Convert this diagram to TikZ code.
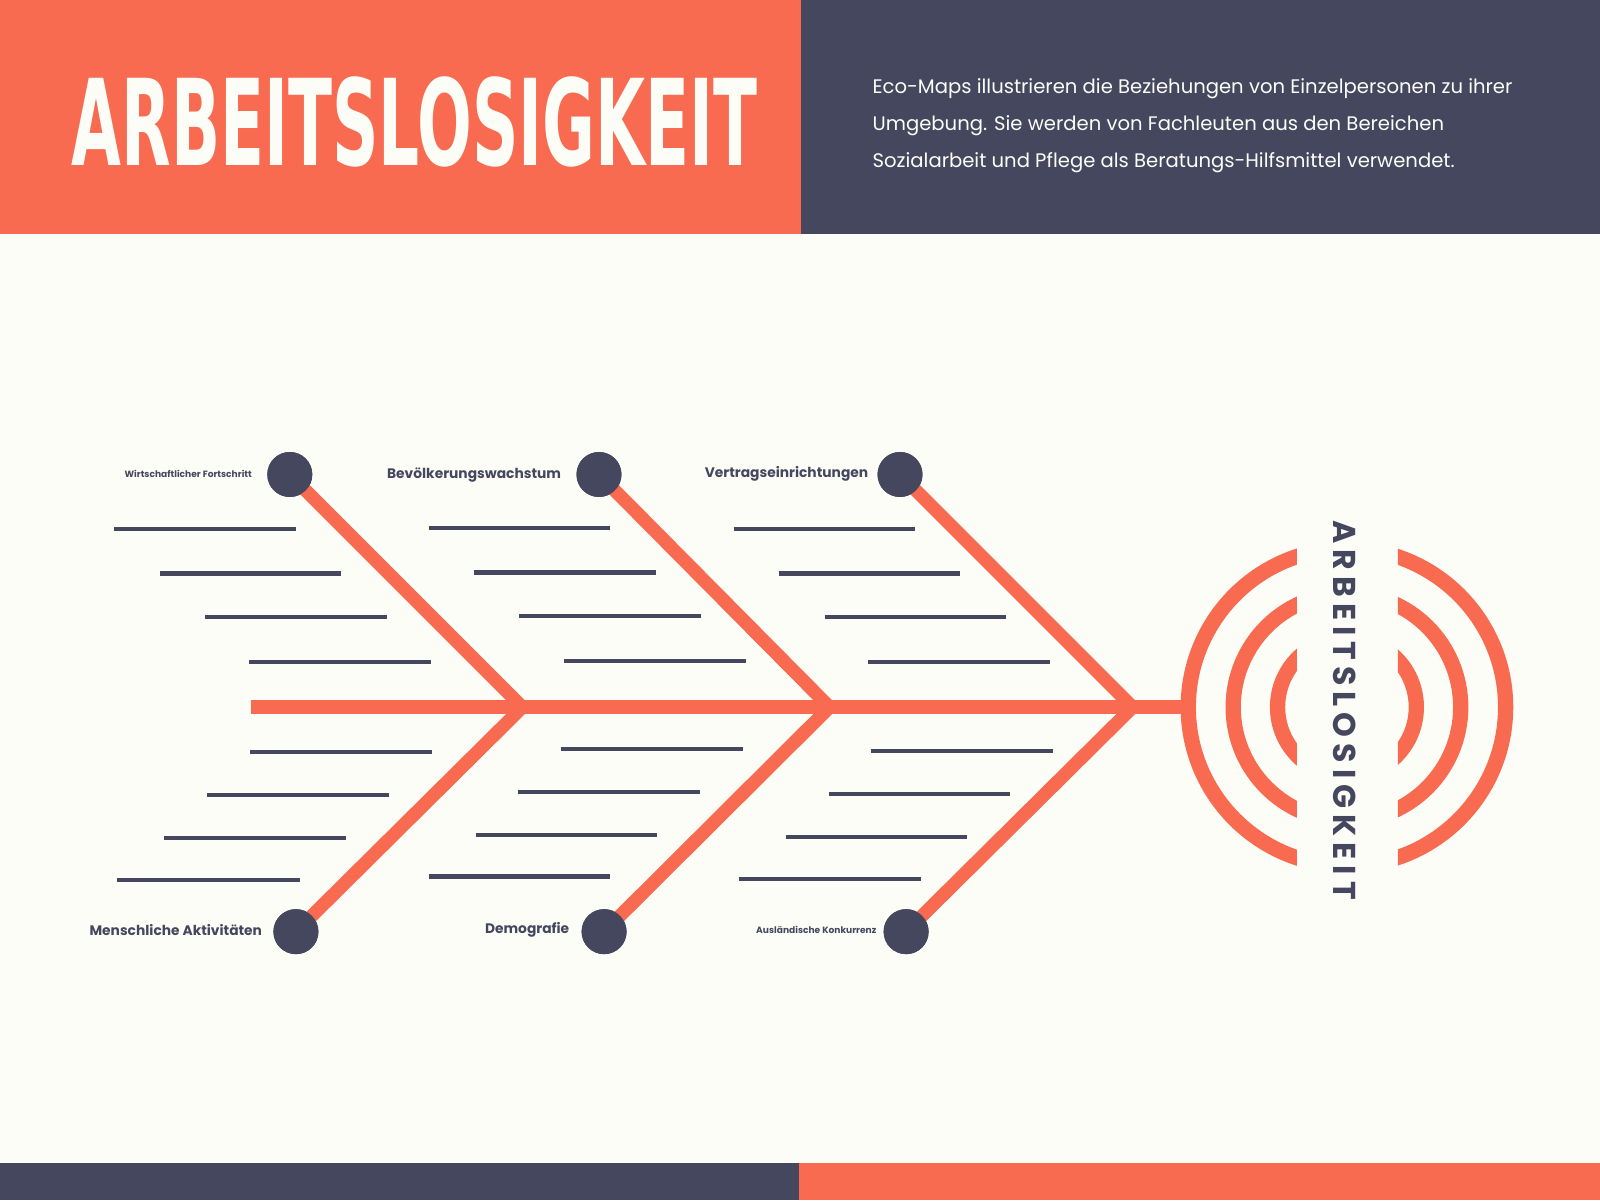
\documentclass[tikz,border=0pt]{standalone}
\usepackage{fontspec}
\usepackage{tikz}
\setmainfont{Poppins}
\newfontfamily\titlefont{DejaVu Sans}
\newfontfamily\spacedfont[LetterSpace=19]{Poppins}
\definecolor{coral}{HTML}{F96B51}
\definecolor{slate}{HTML}{45475F}
\definecolor{paper}{HTML}{FDFDF8}

\begin{document}
\begin{tikzpicture}[x=1.0204pt,y=-1.0204pt]
    \tikzset { dot/.style = { shape=circle,fill=slate,minimum size=45pt,inner sep=0pt } }
    \tikzset { bone/.style = { draw=coral,line width=13.3pt,line join=miter } }
    \tikzset { rib/.style = { draw=slate,line width=4.1pt } }
    \tikzset { cause/.style = { anchor=east,inner sep=0pt,text=slate,font=\bfseries\fontsize{13.8}{13.8}\selectfont } }
    \tikzset { smallcause/.style = { cause,font=\bfseries\fontsize{9.1}{9.1}\selectfont } }

    % background and bands
    \useasboundingbox (0,0) rectangle (1568,1176);
    \fill[paper] (0,0) rectangle (1568,1176);
    \fill[coral] (0,0) rectangle (785,229);
    \fill[slate] (785,0) rectangle (1568,229);
    \fill[slate] (0,1140) rectangle (783,1176);
    \fill[coral] (783,1140) rectangle (1568,1176);

    \node (title) [anchor=base west,inner sep=0pt,text=paper] at (70,162)
      {\resizebox{685.7pt}{88.8pt}{\titlefont\bfseries ARBEITSLOSIGKEIT}};
    \node (intro) [anchor=north west,inner sep=0pt,text=paper,align=left,
      font=\fontsize{19.6}{36.7}\selectfont] at (855,77) {
      Eco-Maps illustrieren die Beziehungen von Einzelpersonen zu ihrer\\
      Umgebung. Sie werden von Fachleuten aus den Bereichen\\
      Sozialarbeit und Pflege als Beratungs-Hilfsmittel verwendet.};

    % spine
    \coordinate (tail) at (246,693);
    \coordinate (head) at (1166,693);
    \coordinate (j1) at (512,693);
    \coordinate (j2) at (813,693);
    \coordinate (j3) at (1110,693);
    \draw[bone,line width=14.3pt] (tail) -- (head);

    % causes
    \node[dot] (wirt) at (284,465) {};
    \node[dot] (bevo) at (587,465) {};
    \node[dot] (vert) at (882,465) {};
    \node[dot] (mens) at (290,913) {};
    \node[dot] (demo) at (592,913) {};
    \node[dot] (ausl) at (888,913) {};

    \draw[bone] (wirt.center) -- (j1) -- (mens.center);
    \draw[bone] (bevo.center) -- (j2) -- (demo.center);
    \draw[bone] (vert.center) -- (j3) -- (ausl.center);

    \node[dot] at (wirt) {};
    \node[dot] at (bevo) {};
    \node[dot] at (vert) {};
    \node[dot] at (mens) {};
    \node[dot] at (demo) {};
    \node[dot] at (ausl) {};

    \node[smallcause] (lwirt) at (247,464) {Wirtschaftlicher Fortschritt};
    \node[cause] (lbevo) at (550,466) {Bevölkerungswachstum};
    \node[cause] (lvert) at (851,464) {Vertragseinrichtungen};
    \node[cause] (lmens) at (257,911) {Menschliche Aktivitäten};
    \node[cause] (ldemo) at (558,911) {Demografie};
    \node[smallcause] (lausl) at (859,911) {Ausländische Konkurrenz};

    % ribs
    \draw[rib] (112,518) -- (290,518);
    \draw[rib] (157,562) -- (334,562);
    \draw[rib] (201,605) -- (379,605);
    \draw[rib] (244,649) -- (422,649);
    \draw[rib] (245,737) -- (423,737);
    \draw[rib] (203,779) -- (381,779);
    \draw[rib] (161,821) -- (339,821);
    \draw[rib] (115,862) -- (294,862);

    \draw[rib] (420,517) -- (598,517);
    \draw[rib] (465,561) -- (643,561);
    \draw[rib] (509,604) -- (687,604);
    \draw[rib] (553,648) -- (731,648);
    \draw[rib] (550,734) -- (728,734);
    \draw[rib] (508,776) -- (686,776);
    \draw[rib] (466,818) -- (644,818);
    \draw[rib] (420,859) -- (598,859);

    \draw[rib] (719,518) -- (897,518);
    \draw[rib] (763,562) -- (941,562);
    \draw[rib] (808,605) -- (986,605);
    \draw[rib] (851,649) -- (1029,649);
    \draw[rib] (854,736) -- (1032,736);
    \draw[rib] (812,778) -- (990,778);
    \draw[rib] (770,820) -- (948,820);
    \draw[rib] (724,861) -- (903,861);

    % head rings
    \coordinate (eye) at (1320,693);
    \begin{scope}
      \clip (1140,500) rectangle (1271,900) (1370,500) rectangle (1500,900);
      \draw[coral,line width=15.3pt] (eye) circle (155.5) (eye) circle (111.5) (eye) circle (68);
    \end{scope}
    \node (effect) [rotate=-90,inner sep=0pt,text=slate,
      font=\spacedfont\bfseries\fontsize{31.6}{31.6}\selectfont] at (1318,696) {ARBEITSLOSIGKEIT};
\end{tikzpicture}
\end{document}
